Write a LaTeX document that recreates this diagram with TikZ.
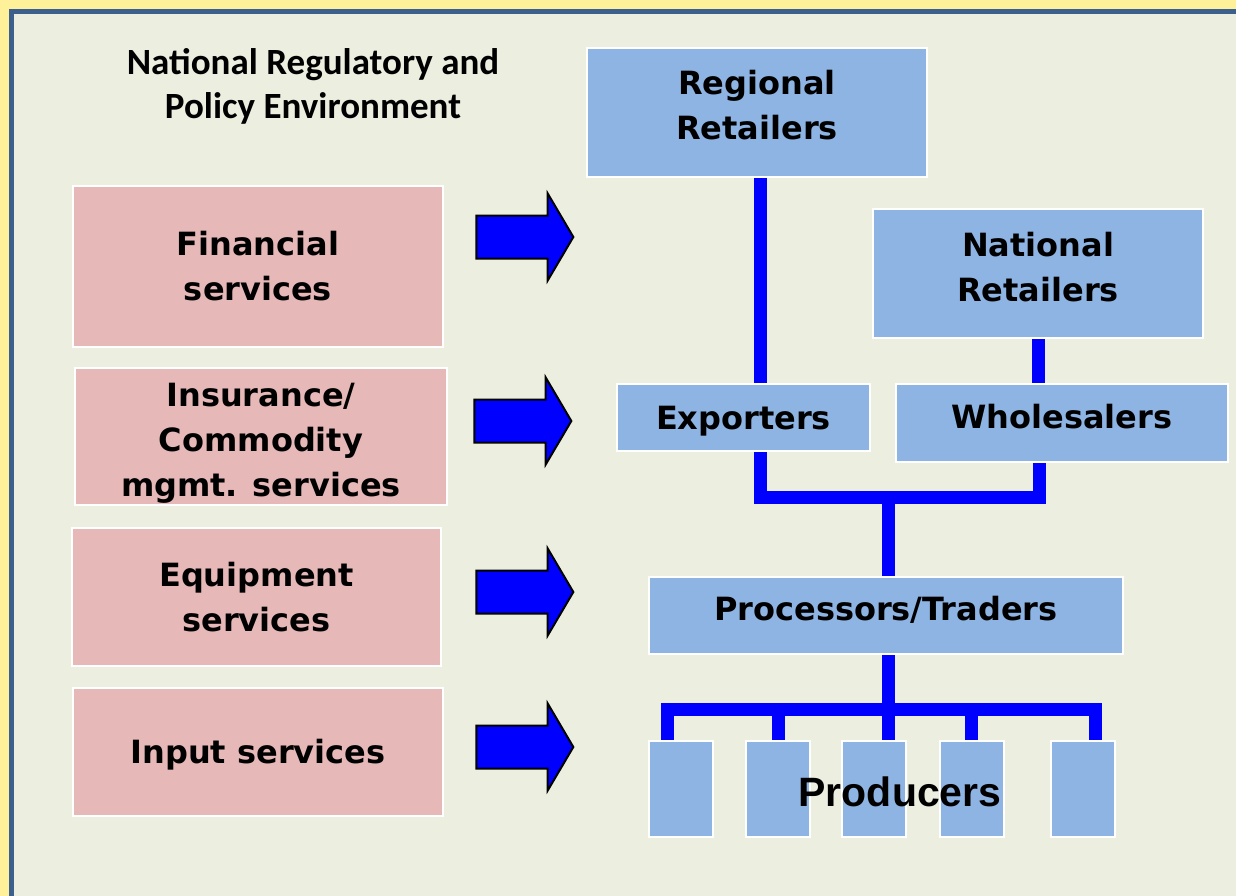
\documentclass[tikz,border=0pt]{standalone}
\usepackage{fontspec}
\setmainfont{DejaVu Sans}
\newfontfamily\titlefont{Carlito}
\newfontfamily\prodfont{Liberation Sans}
\usetikzlibrary{shapes.arrows}

\definecolor{frameyellow}{HTML}{FFF09A}
\definecolor{frameblue}{HTML}{3C5F8E}
\definecolor{paper}{HTML}{ECEFDF}
\definecolor{svcpink}{HTML}{E6B8B7}
\definecolor{chainblue}{HTML}{8EB4E3}
\definecolor{linkblue}{HTML}{0000FF}

\begin{document}
\begin{tikzpicture}[x=1pt, y=-1pt,
		every node/.style={font=\bfseries\fontsize{32}{45}\selectfont, inner sep=0pt, align=center},
		svcbox/.style={fill=svcpink, draw=white, line width=2pt},
		chainbox/.style={fill=chainblue, draw=white, line width=2pt},
		link/.style={draw=linkblue, line width=13pt, line join=miter},
		fatarrow/.style={single arrow, fill=linkblue, draw=black, line width=2pt,
			inner xsep=0pt, inner ysep=20.5pt, minimum height=97pt,
			single arrow head extend=22pt, single arrow tip angle=119},
	]
	\useasboundingbox (0,0) rectangle (1236,896);
	\fill[frameyellow] (-5,-5) rectangle (1245,905);
	\fill[frameblue] (9,9) rectangle (1245,905);
	\fill[paper] (14,14) rectangle (1245,905);

	\node[font=\titlefont\bfseries\fontsize{37}{44}\selectfont] (title) at (313,86) {National Regulatory and\\Policy Environment};

	% services on the left
	\node[svcbox, minimum width=370pt, minimum height=161pt] (fin) at (258,266.5) {Financial\\services};
	\node[svcbox, minimum width=372pt, minimum height=137pt,
		label={[yshift=-6.5pt]center:Insurance/\\Commodity\\mgmt. services}] (ins) at (261,436.5) {};
	\node[svcbox, minimum width=369pt, minimum height=138pt] (equ) at (256.5,597) {Equipment\\services};
	\node[svcbox, minimum width=370pt, minimum height=128pt,
		label={[yshift=-3pt]center:Input services}] (inp) at (258,752) {};

	\node[fatarrow] (a1) at (518.5,237) {};
	\node[fatarrow] (a2) at (516.5,421) {};
	\node[fatarrow] (a3) at (518.5,592) {};
	\node[fatarrow] (a4) at (518.5,747) {};

	% value chain
	\node[chainbox, minimum width=340pt, minimum height=129pt,
		label={[yshift=7pt]center:Regional\\Retailers}] (regret) at (757,112.5) {};
	\node[chainbox, minimum width=330pt, minimum height=129pt,
		label={[yshift=6.5pt]center:National\\Retailers}] (natret) at (1038,273.5) {};
	\node[chainbox, minimum width=253pt, minimum height=67pt,
		label={[yshift=-3.5pt]center:Exporters}] (exp) at (743.5,417.5) {};
	\node[chainbox, minimum width=332pt, minimum height=78pt,
		label={[yshift=6pt]center:Wholesalers}] (whole) at (1062,423) {};
	\node[chainbox, minimum width=474pt, minimum height=77pt,
		label={[yshift=5.5pt]center:Processors/Traders}] (proc) at (886,615.5) {};

	\foreach \n/\x in {1/681,2/778,3/874,4/971.5,5/1083}
		{ \node[chainbox, minimum width=64pt, minimum height=96pt] (pb\n) at (\x,789) {};}
	\node[font=\prodfont\bfseries\fontsize{41}{45}\selectfont] (prodtext) at (900,792) {Producers};

	\coordinate (jn) at (888,497);
	\coordinate (pj) at (888,709);

	\draw[link] ([xshift=3pt]regret.south) -- ([xshift=3pt]regret.south |- exp.north);
	\draw[link] (natret.south) -- (natret.south |- whole.north);
	\draw[link] ([xshift=16.5pt]exp.south) |- (jn) -| ([xshift=-23pt]whole.south);
	\draw[link] (jn) -- (jn |- proc.north);
	\draw[link] (proc.south -| pj) -- (pj |- pb3.north);
	\draw[link] ([xshift=-14pt]pb1.north) |- (pj) -| ([xshift=12pt]pb5.north);
	\draw[link] (pb2.north) -- (pb2.north |- pj);
	\draw[link] (pb4.north) -- (pb4.north |- pj);
\end{tikzpicture}
\end{document}
